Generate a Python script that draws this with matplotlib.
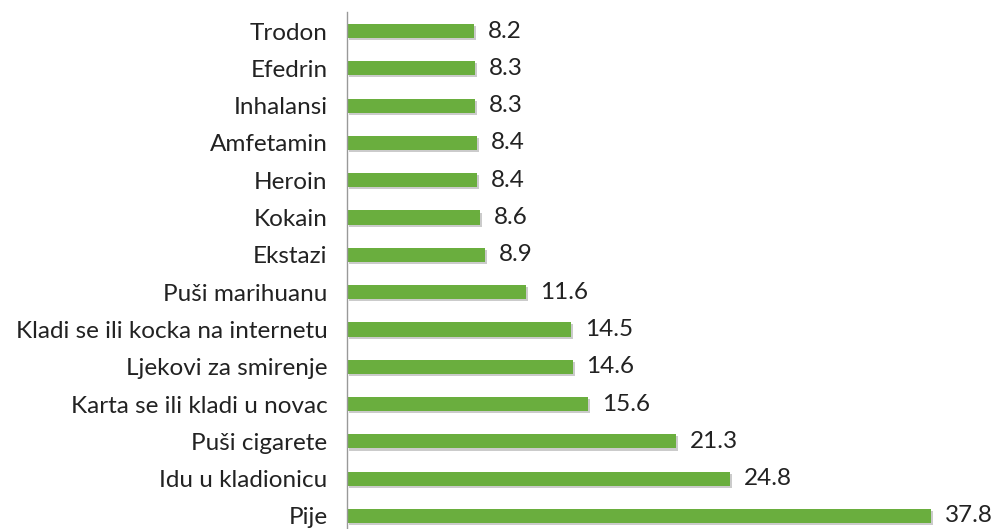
import matplotlib
matplotlib.use("Agg")
import matplotlib.pyplot as plt
import matplotlib.patheffects as pe

categories = ["Trodon", "Efedrin", "Inhalansi", "Amfetamin", "Heroin", "Kokain", "Ekstazi",
              "Puši marihuanu", "Kladi se ili kocka na internetu", "Ljekovi za smirenje",
              "Karta se ili kladi u novac", "Puši cigarete", "Idu u kladionicu", "Pije"]
values = [8.2, 8.3, 8.3, 8.4, 8.4, 8.6, 8.9, 11.6, 14.5, 14.6, 15.6, 21.3, 24.8, 37.8]
value_labels = ["8.2", "8.3", "8.3", "8.4", "8.4", "8.6", "8.9", "11.6", "14.5", "14.6",
                "15.6", "21.3", "24.8", "37.8"]

plt.rcParams['font.family'] = ['Lato', 'DejaVu Sans']

W, H = 996, 529
fig = plt.figure(figsize=(W/100, H/100), dpi=100)
left = 347/W
top_px, bot_px = 12.35, 534.6
ax = fig.add_axes([left, (H-bot_px)/H, 1-left, (bot_px-top_px)/H])

n = len(categories)
ypos = list(range(n))
ax.barh(ypos, values, height=0.38, color="#6aae3e", edgecolor="none",
        path_effects=[pe.SimplePatchShadow(offset=(1.5, -1.5), shadow_rgbFace="#999999", alpha=0.5), pe.Normal()])
ax.set_ylim(n-0.5, -0.5)
ax.set_xlim(0, (W - 347)/15.45)
ax.set_yticks(ypos)
ax.set_yticklabels(categories, fontsize=17.5)
ax.tick_params(axis='y', length=0, pad=14, colors="#222222")
ax.set_xticks([])
for s in ["top", "right", "bottom"]:
    ax.spines[s].set_visible(False)
ax.spines["left"].set_color("#999999")
ax.spines["left"].set_linewidth(1)

for y, v, lab in zip(ypos, values, value_labels):
    ax.annotate(lab, (v, y), xytext=(10, 0), textcoords="offset points", va="center", ha="left",
                fontsize=17.5, color="#222222", annotation_clip=False)

fig.savefig("out.png", dpi=100)
